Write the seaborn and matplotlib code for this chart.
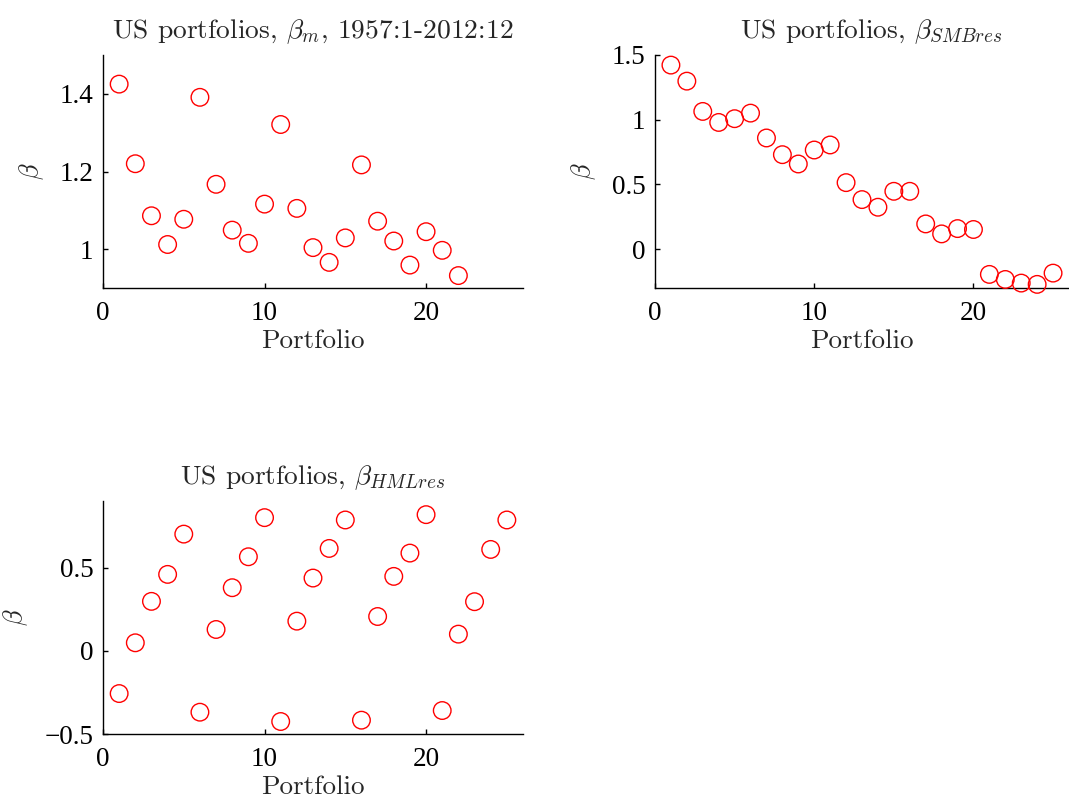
import matplotlib
matplotlib.use("Agg")
import matplotlib.pyplot as plt
import seaborn as sns
import pandas as pd

# Market betas (portfolios 1-22 fall inside the plotted range)
portfolio_m = list(range(1, 23))
beta_m = [1.425, 1.220, 1.086, 1.012, 1.077, 1.391, 1.167, 1.049, 1.015, 1.116,
          1.321, 1.105, 1.004, 0.966, 1.029, 1.217, 1.072, 1.021, 0.959, 1.045,
          0.997, 0.932]

# Residual SMB betas
portfolio_smb = list(range(1, 26))
beta_smb = [1.422, 1.298, 1.064, 0.979, 1.008, 1.051, 0.859, 0.730, 0.658, 0.766,
            0.805, 0.514, 0.383, 0.324, 0.447, 0.447, 0.195, 0.118, 0.159, 0.152,
            -0.195, -0.234, -0.262, -0.272, -0.185]

# Residual HML betas
portfolio_hml = list(range(1, 26))
beta_hml = [-0.257, 0.048, 0.297, 0.459, 0.701, -0.369, 0.128, 0.379, 0.565, 0.800,
            -0.425, 0.178, 0.437, 0.615, 0.786, -0.417, 0.206, 0.447, 0.587, 0.818,
            -0.359, 0.100, 0.295, 0.609, 0.786]

titles = [r"US portfolios, $\beta_m$, 1957:1-2012:12",
          r"US portfolios, $\beta_{SMBres}$",
          r"US portfolios, $\beta_{HMLres}$"]
x_label = "Portfolio"
y_label = r"$\beta$"

x_ticks = [0, 10, 20]
x_tick_labels = ["0", "10", "20"]
y_ticks_m = [1.0, 1.2, 1.4]
y_tick_labels_m = ["1", "1.2", "1.4"]
y_ticks_smb = [0.0, 0.5, 1.0, 1.5]
y_tick_labels_smb = ["0", "0.5", "1", "1.5"]
y_ticks_hml = [-0.5, 0.0, 0.5]
y_tick_labels_hml = ["\u22120.5", "0", "0.5"]

sns.set_style("ticks")
plt.rcParams.update({
    "font.family": ["Liberation Serif", "DejaVu Serif"],
    "mathtext.fontset": "cm",
    "xtick.direction": "in",
    "ytick.direction": "in",
    "axes.linewidth": 1.0,
    "xtick.major.width": 1.0,
    "ytick.major.width": 1.0,
    "xtick.major.size": 3.5,
    "ytick.major.size": 3.5,
    "axes.edgecolor": "black",
    "xtick.color": "black",
    "ytick.color": "black",
})

W, H = 1069, 798
fig = plt.figure(figsize=(W / 100, H / 100), dpi=100)


def frame(left, top, right, bottom):
    return [left / W, 1 - bottom / H, (right - left) / W, (bottom - top) / H]


panels = [
    dict(rect=frame(103, 55, 523, 288), x=portfolio_m, y=beta_m, ylim=(0.9, 1.5),
         yticks=y_ticks_m, ylabels=y_tick_labels_m, title=titles[0], tx=0.5),
    dict(rect=frame(655, 55, 1069, 288), x=portfolio_smb, y=beta_smb, ylim=(-0.3, 1.5),
         yticks=y_ticks_smb, ylabels=y_tick_labels_smb, title=titles[1], tx=0.522),
    dict(rect=frame(103, 501, 523, 734), x=portfolio_hml, y=beta_hml, ylim=(-0.5, 0.9),
         yticks=y_ticks_hml, ylabels=y_tick_labels_hml, title=titles[2], tx=0.5),
]

title_font = {"family": "cmr10", "size": 19.8}
xlabel_font = {"family": "cmr10", "size": 19.5}

for p in panels:
    ax = fig.add_axes(p["rect"])
    df = pd.DataFrame({"portfolio": p["x"], "beta": p["y"]})
    sns.scatterplot(data=df, x="portfolio", y="beta", ax=ax, marker="o", s=160,
                    facecolors="none", edgecolor="red", linewidth=1.0,
                    clip_on=False, zorder=3, legend=False)
    ax.set_xlim(0, 26)
    ax.set_ylim(*p["ylim"])
    ax.set_xticks(x_ticks)
    ax.set_xticklabels(x_tick_labels)
    ax.set_yticks(p["yticks"])
    ax.set_yticklabels(p["ylabels"])
    ax.tick_params(axis="both", labelsize=19.5, pad=7)
    ax.tick_params(axis="x", pad=9)
    for side in ("top", "right"):
        ax.spines[side].set_visible(False)
    ax.set_xlabel(x_label, fontdict=xlabel_font, labelpad=2.5)
    ax.set_ylabel(y_label, fontsize=19, labelpad=10)
    ax.set_title(p["title"], fontdict=title_font, pad=12, x=p["tx"])

fig.savefig("out.png", dpi=100, facecolor="white")
